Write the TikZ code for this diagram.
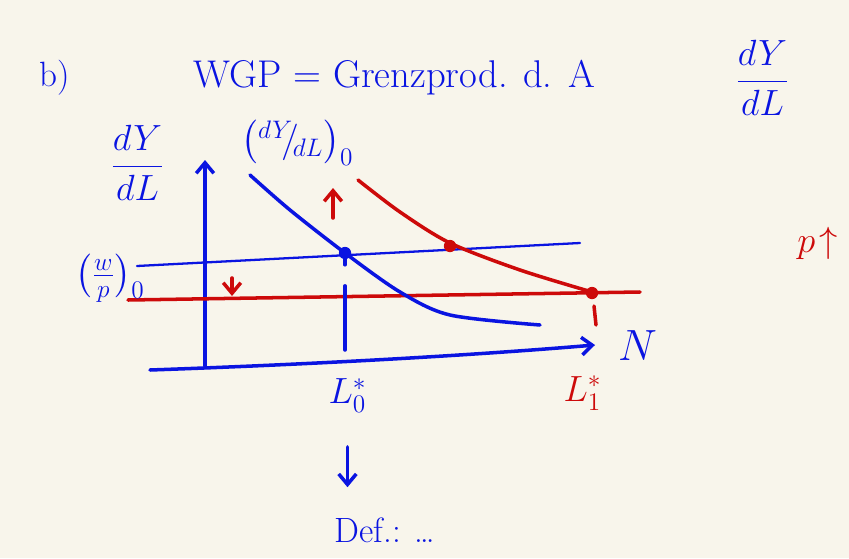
\documentclass[tikz,border=0pt]{standalone}
\usepackage{amsmath}
\usetikzlibrary{arrows.meta}
\definecolor{inkblue}{RGB}{10,20,225}
\definecolor{inkred}{RGB}{205,10,10}
\definecolor{paper}{RGB}{248,245,235}
\begin{document}
\begin{tikzpicture}[
    ink/.style={line width=2pt, line cap=round},
    thinink/.style={line width=1.3pt, line cap=round},
    dot/.style={circle, fill, inner sep=0pt, minimum size=7pt},
    lbl/.style={font=\fontsize{20}{22}\selectfont},
    tip/.style={-{Straight Barb[length=6pt,width=10pt]}}
  ]
    % Paper
    \fill[paper] (0,0) rectangle (16.98,11.16);
    \useasboundingbox (0,0) rectangle (16.98,11.16);

    % Headline
    \node[lbl, inkblue] (part) at (1.1,9.6) {b)};
    \node[lbl, inkblue, anchor=west, font=\fontsize{22}{24}\selectfont] (wgp) at (3.75,9.6) {WGP = Grenzprod. d. A};
    \node[lbl, inkblue] (frac) at (15.25,9.6) {$\dfrac{dY}{dL}$};

    % Axes
    \coordinate (O) at (4.10,3.84);
    \coordinate (ytop) at (4.10,7.96);
    \coordinate (xleft) at (3.00,3.76);
    \coordinate (xright) at (11.90,4.26);
    \draw[ink, inkblue, tip] (O) -- (ytop);
    \draw[ink, inkblue, tip] (xleft) .. controls (7.0,3.90) and (10.0,4.10) .. (xright);
    \node[lbl, inkblue] (ylab) at (2.75,7.9) {$\dfrac{dY}{dL}$};
    \node[lbl, inkblue] (N) at (12.75,4.25) {\fontsize{28}{30}\selectfont $N$};

    % Real wage lines
    \coordinate (wl) at (2.74,5.84);
    \coordinate (wr) at (11.60,6.30);
    \coordinate (rl) at (2.56,5.16);
    \coordinate (rr) at (12.80,5.32);
    \draw[thinink, inkblue] (wl) -- (wr);
    \draw[ink, inkred] (rl) -- (rr);
    \node[lbl, inkblue] (wp) at (2.2,5.6) {$\bigl(\frac{w}{p}\bigr)_0$};

    % Marginal product curves
    \draw[ink, inkblue] plot[smooth] coordinates {(5.00,7.66) (5.80,6.96) (6.90,6.10) (8.00,5.32) (9.00,4.86) (10.80,4.66)};
    \draw[ink, inkred] plot[smooth] coordinates {(7.16,7.56) (8.00,6.92) (9.00,6.30) (10.40,5.76) (11.84,5.32)};
    \node[lbl, inkblue] (mp) at (5.95,8.3) {$\bigl({}^{dY}\!\!/\!{}_{dL}\bigr)_0$};

    % Equilibria
    \node[dot, inkblue] (E0) at (6.90,6.10) {};
    \node[dot, inkred] (E1) at (9.00,6.24) {};
    \node[dot, inkred] (E2) at (11.84,5.30) {};
    \coordinate (E0foot) at (6.90,4.16);
    \coordinate (E2top) at (11.88,5.04);
    \coordinate (E2foot) at (11.92,4.66);
    \draw[ink, inkblue, dash pattern=on 3pt off 12pt on 80pt] (E0) -- (E0foot);
    \draw[ink, inkred] (E2top) -- (E2foot);

    % Shifts
    \coordinate (upa) at (6.66,6.80);
    \coordinate (upb) at (6.66,7.40);
    \coordinate (dna) at (4.64,5.60);
    \coordinate (dnb) at (4.64,5.24);
    \draw[ink, inkred, tip] (upa) -- (upb);
    \draw[ink, inkred, tip] (dna) -- (dnb);

    % Employment
    \node[lbl, inkblue] (L0) at (6.95,3.25) {$L_0^*$};
    \node[lbl, inkred] (L1) at (11.65,3.3) {$L_1^*$};
    \node[lbl, inkblue] (def) at (7.7,0.55) {Def.: \dots};
    \coordinate (darr) at ([yshift=-16pt]L0.south);
    \draw[ink, inkblue, tip, shorten >=14pt] (darr) -- (darr |- def.north);

    % Price level
    \node[lbl, inkred] (p) at (16.35,6.3) {$p\!\uparrow$};
\end{tikzpicture}
\end{document}
